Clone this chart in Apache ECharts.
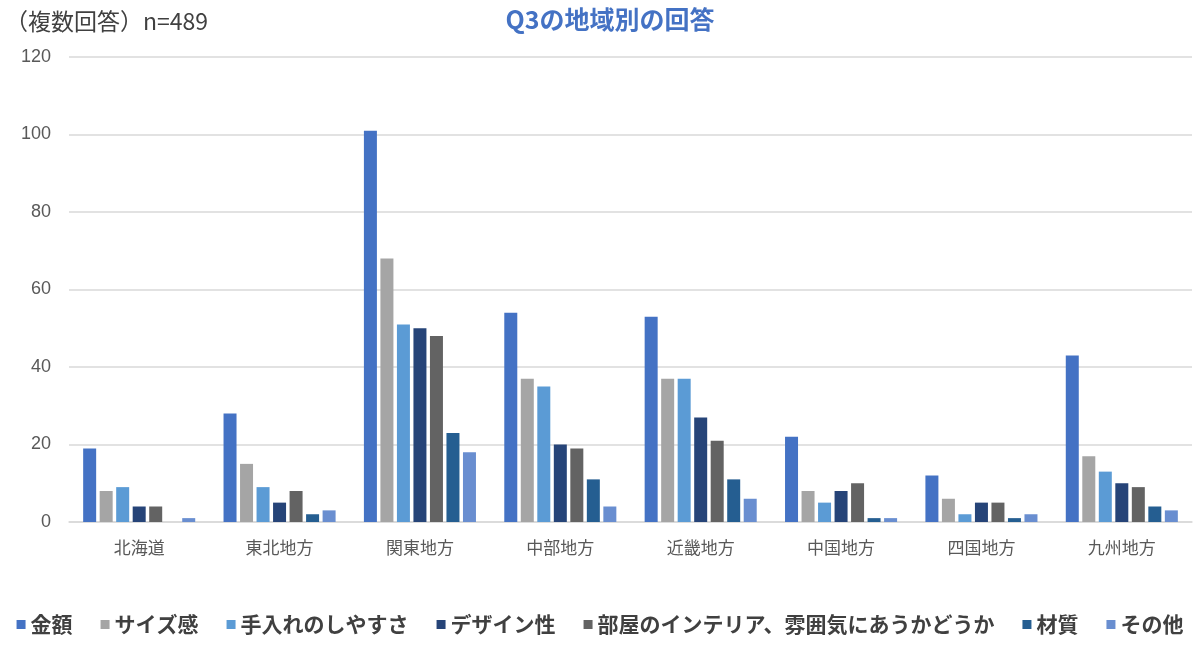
<!DOCTYPE html>
<html>
<head>
<meta charset="utf-8">
<script src="https://cdn.jsdelivr.net/npm/echarts@6/dist/echarts.min.js"></script>
<style>
  html, body { margin: 0; padding: 0; background: #fff; }
  #main { width: 1200px; height: 649px; }
</style>
</head>
<body>
<div id="main"></div>
<script>
const regions = ["北海道", "東北地方", "関東地方", "中部地方", "近畿地方", "中国地方", "四国地方", "九州地方"];

const kingaku   = [19, 28, 101, 54, 53, 22, 12, 43];
const sizeKan   = [8, 15, 68, 37, 37, 8, 6, 17];
const teire     = [9, 9, 51, 35, 37, 5, 2, 13];
const design    = [4, 5, 50, 20, 27, 8, 5, 10];
const interior  = [4, 8, 48, 19, 21, 10, 5, 9];
const zaishitsu = [0, 2, 23, 11, 11, 1, 1, 4];
const sonota    = [1, 3, 18, 4, 6, 1, 2, 3];

const seriesNames = ["金額", "サイズ感", "手入れのしやすさ", "デザイン性", "部屋のインテリア、雰囲気にあうかどうか", "材質", "その他"];
const seriesData = [kingaku, sizeKan, teire, design, interior, zaishitsu, sonota];
const colors = ["#4472C4", "#A5A5A5", "#5B9BD5", "#264478", "#636363", "#255E91", "#698ED0"];

const jpFont = "'Noto Sans CJK JP', sans-serif";

const chart = echarts.init(document.getElementById("main"));

const option = {
  animation: false,
  color: colors,
  title: [{
    text: "Q3の地域別の回答",
    left: 605,
    textAlign: "center",
    top: 2,
    textStyle: {
      color: "#4472C4",
      fontSize: 25,
      fontWeight: "bold",
      fontFamily: jpFont
    }
  }, {
    text: "（複数回答）n=489",
    left: 0,
    top: 5,
    textStyle: {
      color: "#404040",
      fontSize: 23,
      fontWeight: "normal",
      fontFamily: jpFont
    }
  }],
  legend: {
    bottom: 9,
    left: "center",
    icon: "rect",
    itemWidth: 9,
    itemHeight: 9,
    itemGap: 28,
    textStyle: {
      color: "#404040",
      fontSize: 21,
      fontWeight: "bold",
      fontFamily: jpFont
    },
    data: seriesNames
  },
  grid: {
    left: 69,
    right: 8,
    top: 57,
    bottom: 127,
    containLabel: false
  },
  xAxis: {
    type: "category",
    data: regions,
    axisTick: { show: false },
    axisLine: { lineStyle: { color: "#D9D9D9", width: 1.5 } },
    axisLabel: {
      color: "#595959",
      fontSize: 17,
      margin: 17,
      fontFamily: jpFont
    }
  },
  yAxis: {
    type: "value",
    min: 0,
    max: 120,
    interval: 20,
    axisLine: { show: false },
    axisTick: { show: false },
    splitLine: { lineStyle: { color: "#D9D9D9", width: 1.5 } },
    axisLabel: {
      color: "#595959",
      fontSize: 18,
      margin: 18,
      fontFamily: "'Liberation Sans', Arial, sans-serif"
    }
  },
  series: seriesNames.map((name, i) => ({
    name: name,
    type: "bar",
    data: seriesData[i],
    barWidth: 13,
    barGap: "27%",
    itemStyle: { color: colors[i] }
  }))
};

chart.setOption(option);
</script>
</body>
</html>
